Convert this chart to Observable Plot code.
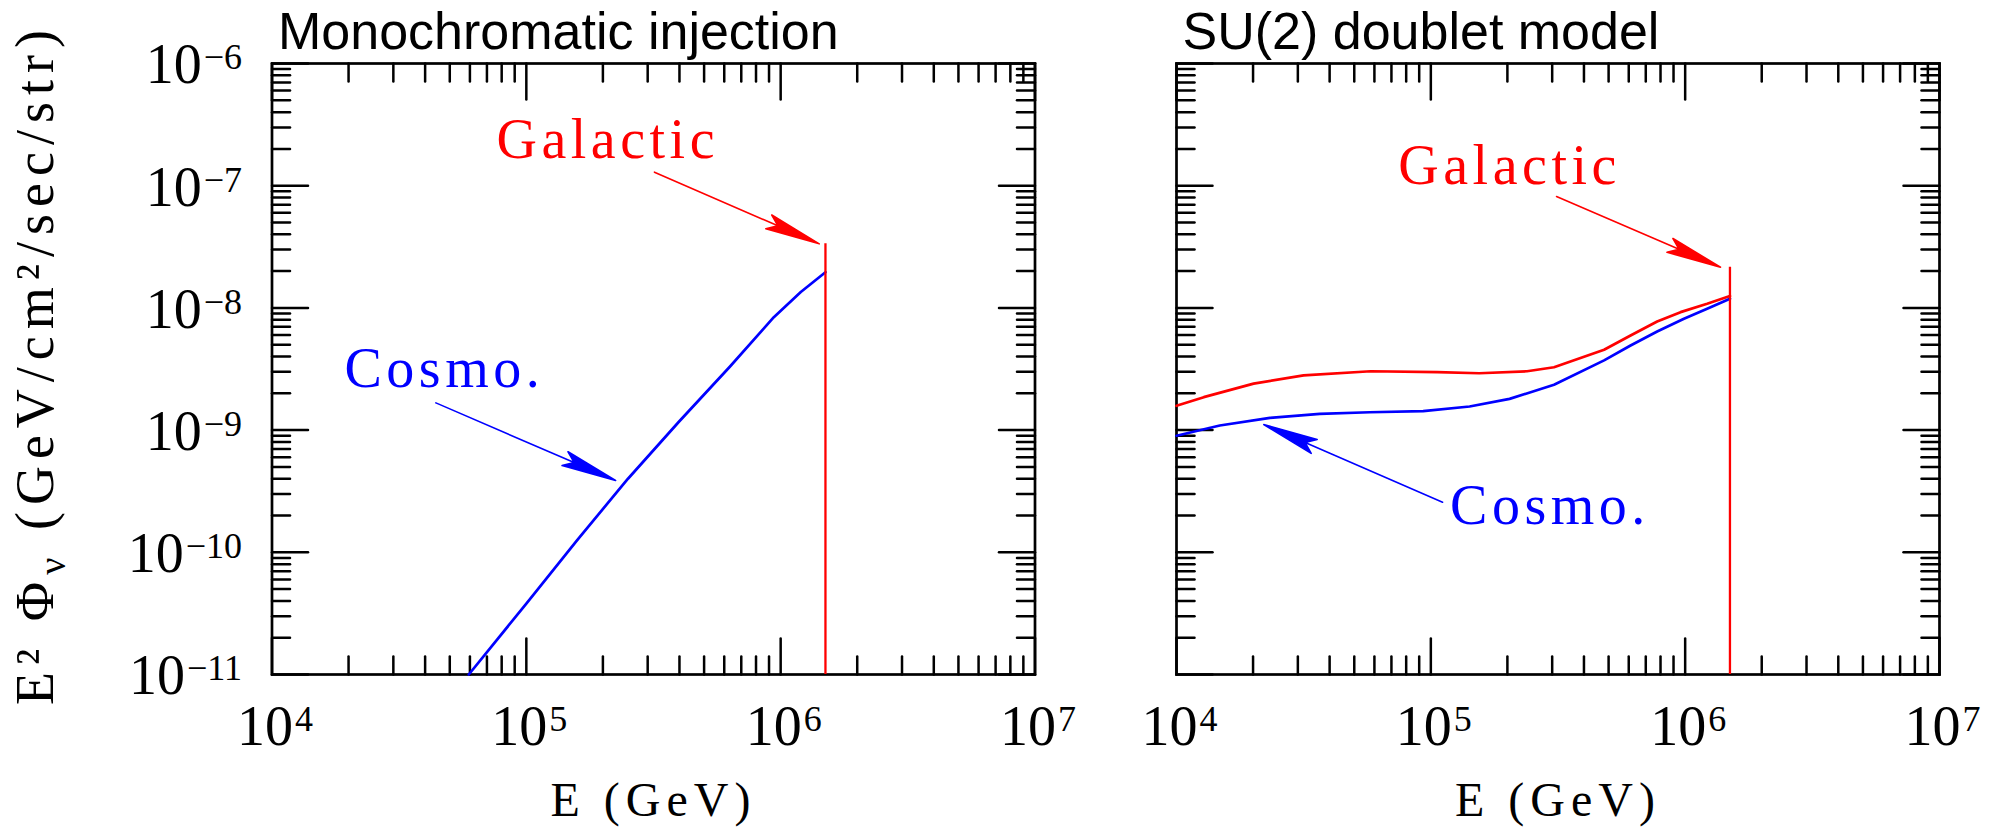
<!DOCTYPE html>
<html><head><meta charset="utf-8">
<script src="https://cdn.jsdelivr.net/npm/d3@7"></script>
<script src="https://cdn.jsdelivr.net/npm/@observablehq/plot@0.6"></script>
<style>
html,body{margin:0;padding:0;background:#fff;}
#wrap{position:relative;width:2004px;height:828px;overflow:hidden;background:#fff;}
#wrap svg{position:absolute;top:0;overflow:visible;}
</style></head><body><div id="wrap"></div>
<script>
// ---------------- data ----------------
const xDomain = [1e4, 1e7];
const yDomain = [1e-11, 1e-6];
const xMajorTicks = [1e4, 1e5, 1e6, 1e7];
const xTickExponents = ["4", "5", "6", "7"];
const yMajorTicks = [1e-11, 1e-10, 1e-9, 1e-8, 1e-7, 1e-6];
const yTickExponents = ["\u221211", "\u221210", "\u22129", "\u22128", "\u22127", "\u22126"];
const xMinorTicks = [4, 5, 6].flatMap(d => [2,3,4,5,6,7,8,9].map(m => m * 10 ** d));
const yMinorTicks = [-11, -10, -9, -8, -7].flatMap(d => [2,3,4,5,6,7,8,9].map(m => m * 10 ** d));

const panelTitles = ["Monochromatic injection", "SU(2) doublet model"];
const xAxisLabel = "E (GeV)";
const yAxisLabel = "E\u00b2 \u03a6_\u03bd_ (GeV/cm\u00b2/sec/str)";
const noteLabels = ["Galactic", "Cosmo."];

const cutoffEnergy = 1.5e6;

// Panel 1: monochromatic injection
const monoCosmoE    = [5.94e4, 1.0e5, 1.585e5, 2.51e5, 3.98e5, 6.31e5, 9.4e5, 1.2e6, 1.5e6];
const monoCosmoFlux = [1.0e-11, 3.8e-11, 1.26e-10, 4.0e-10, 1.17e-9, 3.3e-9, 8.4e-9, 1.35e-8, 1.96e-8];
const monoGalacticTop = 3.35e-8;

// Panel 2: SU(2) doublet model
const su2GalE    = [1e4, 1.28e4, 2.01e4, 3.16e4, 5.8e4, 1.06e5, 1.55e5, 2.39e5, 3.05e5, 4.8e5, 6.1e5, 7.76e5, 9.59e5, 1.22e6, 1.5e6];
const su2GalFlux = [1.58e-9, 1.86e-9, 2.40e-9, 2.80e-9, 3.03e-9, 2.98e-9, 2.92e-9, 3.03e-9, 3.27e-9, 4.54e-9, 5.94e-9, 7.74e-9, 9.23e-9, 1.08e-8, 1.25e-8];
const su2CosmoE    = [1e4, 1.48e4, 2.33e4, 3.66e4, 5.75e4, 9.33e4, 1.42e5, 2.04e5, 3.05e5, 4.8e5, 6.1e5, 7.76e5, 9.89e5, 1.22e6, 1.5e6];
const su2CosmoFlux = [9.0e-10, 1.09e-9, 1.26e-9, 1.36e-9, 1.40e-9, 1.43e-9, 1.56e-9, 1.80e-9, 2.35e-9, 3.72e-9, 4.92e-9, 6.41e-9, 8.15e-9, 9.84e-9, 1.19e-8];
const su2GalacticTop = 2.15e-8;

// Annotations: [labelE, labelFlux, arrowStartE, arrowStartFlux, arrowTipE, arrowTipFlux]
const monoGalacticNote = [2.09e5, 1.67e-7, 3.19e5, 1.29e-7, 1.418e6, 3.345e-8];
const monoCosmoNote    = [4.76e4, 2.24e-9, 4.41e4, 1.67e-9, 2.243e5, 3.87e-10];
const su2GalacticNote  = [2.04e5, 1.036e-7, 3.12e5, 8.16e-8, 1.377e6, 2.153e-8];
const su2CosmoNote     = [2.94e5, 1.69e-10, 1.112e5, 2.57e-10, 2.203e4, 1.11e-9];

// ---------------- drawing ----------------
const H = 828, MT = 63, MB = 154;
const SERIF = "Liberation Serif, Times New Roman, serif";
const SANS = "Liberation Sans, Arial, sans-serif";

const tickShape = {draw(ctx, l) { ctx.moveTo(0, 0); ctx.lineTo(0, -l); }};
const arrowShape = {draw(ctx, l) {
  ctx.moveTo(0, 0); ctx.lineTo(0, -l + 42);
  ctx.moveTo(0, -l); ctx.lineTo(7.5, -l + 55); ctx.lineTo(0, -l + 45); ctx.lineTo(-7.5, -l + 55); ctx.closePath();
}};

function panel({width, ml, mr, title, showY, curves, galTop, notes}) {
  const xs = d3.scaleLog().domain(xDomain).range([ml, width - mr]);
  const ys = d3.scaleLog().domain(yDomain).range([H - MB, MT]);
  const arrowMarks = notes.flatMap(([lx, ly, sx, sy, tx, ty, color, label]) => {
    const dx = xs(tx) - xs(sx), dy = ys(ty) - ys(sy);
    const len = Math.hypot(dx, dy);
    const rot = Math.atan2(dx, -dy) * 180 / Math.PI;
    return [
      Plot.vector([0], {x: () => tx, y: () => ty, length: len, rotate: rot, anchor: "end",
        shape: arrowShape, stroke: color, fill: color, strokeWidth: 1.6}),
      Plot.text([label], {x: () => lx, y: () => ly, text: d => d, textAnchor: "middle", lineAnchor: "bottom",
        fill: color, fontSize: 56, fontFamily: SERIF})
    ];
  });
  const tick = (data, opts, len) => Plot.vector(data, {anchor: "start", length: len, shape: tickShape,
    stroke: "black", strokeWidth: 2.5, ...opts});
  const marks = [
    Plot.frame({stroke: "black", strokeWidth: 2.7}),
    tick(xMajorTicks, {x: d => d, y: () => yDomain[0], rotate: 0}, 36),
    tick(xMinorTicks, {x: d => d, y: () => yDomain[0], rotate: 0}, 18),
    tick(xMajorTicks, {x: d => d, y: () => yDomain[1], rotate: 180}, 36),
    tick(xMinorTicks, {x: d => d, y: () => yDomain[1], rotate: 180}, 18),
    tick(yMajorTicks, {y: d => d, x: () => xDomain[0], rotate: 90}, 36),
    tick(yMinorTicks, {y: d => d, x: () => xDomain[0], rotate: 90}, 18),
    tick(yMajorTicks, {y: d => d, x: () => xDomain[1], rotate: -90}, 36),
    tick(yMinorTicks, {y: d => d, x: () => xDomain[1], rotate: -90}, 18),
    ...curves.map(([E, F, color]) => Plot.line(E, {x: E, y: F, stroke: color, strokeWidth: 2.7})),
    Plot.ruleX([cutoffEnergy], {y1: () => yDomain[0], y2: () => galTop, stroke: "red", strokeWidth: 2.3}),
    ...arrowMarks,
    Plot.text(xMajorTicks, {x: d => d, text: (d, i) => "10^" + xTickExponents[i], frameAnchor: "bottom",
      dy: 70, dx: 3, lineAnchor: "bottom", textAnchor: "middle", fontSize: 56, fontFamily: SERIF, fill: "black"}),
    Plot.text([xAxisLabel], {text: d => d, frameAnchor: "bottom", dy: 141, lineAnchor: "bottom",
      textAnchor: "middle", fontSize: 48, fontFamily: SERIF, fill: "black"}),
    Plot.text([title], {text: d => d, frameAnchor: "top-left", dx: 6, dy: -15, lineAnchor: "bottom",
      textAnchor: "start", fontSize: 52, fontFamily: SANS, fill: "black"})
  ];
  if (showY) {
    marks.push(
      Plot.text(yMajorTicks, {y: d => d, text: (d, i) => "10^" + yTickExponents[i], frameAnchor: "left",
        dx: -30, dy: 2, textAnchor: "end", lineAnchor: "middle", fontSize: 56, fontFamily: SERIF, fill: "black"}),
      Plot.text([yAxisLabel], {text: d => d, frameAnchor: "left", dx: -219.5, dy: -5, rotate: -90,
        textAnchor: "middle", lineAnchor: "bottom", fontSize: 54, fontFamily: SERIF, fill: "black"})
    );
  }
  const svg = Plot.plot({
    width, height: H, marginTop: MT, marginBottom: MB, marginLeft: ml, marginRight: mr,
    x: {type: "log", domain: xDomain, axis: null},
    y: {type: "log", domain: yDomain, axis: null},
    style: {background: "white", overflow: "visible"},
    marks
  });
  // superscripts / subscripts as real tspans
  const NS = "http://www.w3.org/2000/svg";
  svg.querySelectorAll("text").forEach(t => {
    const s = t.textContent;
    if (s.includes("^")) {
      const [base, sup] = s.split("^");
      t.textContent = base;
      const ts = document.createElementNS(NS, "tspan");
      ts.setAttribute("font-size", 36); ts.setAttribute("dy", -14); ts.setAttribute("dx", 2);
      ts.textContent = sup; t.appendChild(ts);
    } else if (s.includes("_")) {
      const [a, sub, c] = s.split("_");
      t.textContent = a;
      const s1 = document.createElementNS(NS, "tspan");
      s1.setAttribute("font-size", 38); s1.setAttribute("dy", 12); s1.textContent = sub;
      const s2 = document.createElementNS(NS, "tspan");
      s2.setAttribute("dy", -12); s2.textContent = c;
      t.appendChild(s1); t.appendChild(s2);
      t.setAttribute("letter-spacing", "7");
    } else if (s === xAxisLabel) {
      t.setAttribute("letter-spacing", "6");
    } else if (noteLabels.includes(s)) {
      t.setAttribute("letter-spacing", "4.5");
    }
  });
  return svg;
}

const wrap = document.getElementById("wrap");
const left = panel({
  width: 1100, ml: 271.5, mr: 65.5, title: panelTitles[0], showY: true,
  curves: [[monoCosmoE, monoCosmoFlux, "blue"]], galTop: monoGalacticTop,
  notes: [[...monoGalacticNote, "red", noteLabels[0]], [...monoCosmoNote, "blue", noteLabels[1]]]
});
left.style.left = "0px";
const right = panel({
  width: 904, ml: 76, mr: 65, title: panelTitles[1], showY: false,
  curves: [[su2GalE, su2GalFlux, "red"], [su2CosmoE, su2CosmoFlux, "blue"]], galTop: su2GalacticTop,
  notes: [[...su2GalacticNote, "red", noteLabels[0]], [...su2CosmoNote, "blue", noteLabels[1]]]
});
right.style.left = "1100px";
wrap.appendChild(left);
wrap.appendChild(right);
</script></body></html>
